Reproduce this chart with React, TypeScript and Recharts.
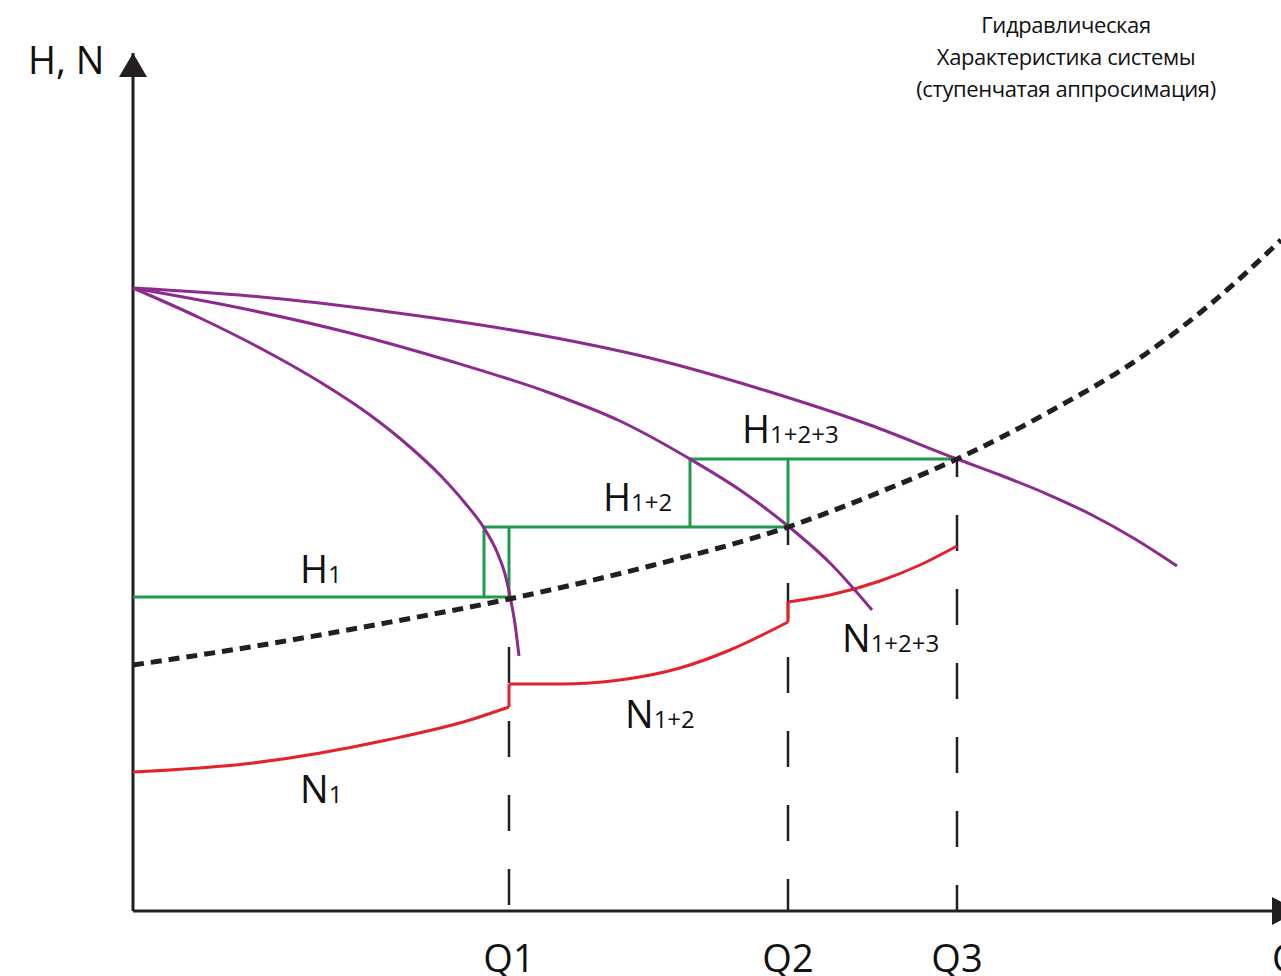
import React from "react";
import { ComposedChart, Line, XAxis, YAxis, ReferenceDot, ReferenceLine } from "recharts";

// schematic units: Q along the axis, H / N upward (no scale printed on the original)
type Pt = { x: number; y: number | null };

const FONT = "'Open Sans', 'Noto Sans', sans-serif";
const INK = "#231f20";
const PURPLE = "#8c2a8e";
const GREEN = "#1f9a4d";
const RED = "#e3222b";

const Q1 = 376;
const Q2 = 655;
const Q3 = 824;
const qTicks = [Q1, Q2, Q3];
const qNames = ["Q1", "Q2", "Q3"];

// pump curves: one, two and three pumps in parallel
const pump1: Pt[] = [
  { x: 0, y: 623 }, { x: 67, y: 593 }, { x: 127, y: 563 }, { x: 187, y: 529 },
  { x: 237, y: 496 }, { x: 277, y: 464 }, { x: 307, y: 436 }, { x: 332, y: 408 },
  { x: 351, y: 383 }, { x: 364, y: 359 }, { x: 372, y: 337 }, { x: 377, y: 315 },
  { x: 382, y: 287 }, { x: 386, y: 255 },
];
const pump12: Pt[] = [
  { x: 0, y: 623 }, { x: 117, y: 601 }, { x: 217, y: 578 }, { x: 317, y: 550 },
  { x: 417, y: 518 }, { x: 487, y: 490 }, { x: 557, y: 452 }, { x: 607, y: 421 },
  { x: 655, y: 385 }, { x: 697, y: 348 }, { x: 739, y: 301 },
];
const pump123: Pt[] = [
  { x: 0, y: 623 }, { x: 117, y: 615 }, { x: 257, y: 599 }, { x: 407, y: 576 },
  { x: 517, y: 553 }, { x: 634, y: 520 }, { x: 737, y: 486 }, { x: 824, y: 452 },
  { x: 867, y: 436 }, { x: 914, y: 417 }, { x: 957, y: 397 }, { x: 1002, y: 372 },
  { x: 1044, y: 345 },
];

// system characteristic
const system: Pt[] = [
  { x: 0, y: 246 }, { x: 117, y: 264 }, { x: 247, y: 287 }, { x: 376, y: 312 },
  { x: 517, y: 345 }, { x: 655, y: 384 }, { x: 747, y: 419 }, { x: 824, y: 452 },
  { x: 914, y: 498 }, { x: 1014, y: 558 }, { x: 1080, y: 609 }, { x: 1148, y: 671 },
];

// step approximation (nulls break the path)
const steps: Pt[] = [
  { x: 0, y: 314 }, { x: 376, y: 314 }, { x: 376, y: null },
  { x: 351, y: 314 }, { x: 351, y: 384 }, { x: 655, y: 384 }, { x: 655, y: null },
  { x: 376, y: 314 }, { x: 376, y: 384 }, { x: 376, y: null },
  { x: 557, y: 384 }, { x: 557, y: 452 }, { x: 824, y: 452 }, { x: 824, y: null },
  { x: 655, y: 384 }, { x: 655, y: 452 },
];

// power curves
const power1: Pt[] = [
  { x: 0, y: 139 }, { x: 120, y: 148 }, { x: 254, y: 171 }, { x: 337, y: 191 }, { x: 376, y: 204 },
];
const power12: Pt[] = [
  { x: 376, y: 227 }, { x: 427, y: 227 }, { x: 487, y: 231 }, { x: 547, y: 243 },
  { x: 597, y: 261 }, { x: 655, y: 289 },
];
const power123: Pt[] = [
  { x: 655, y: 309 }, { x: 697, y: 316 }, { x: 747, y: 330 }, { x: 787, y: 346 }, { x: 824, y: 365 },
];
const powerJumps: Pt[] = [
  { x: 376, y: 204 }, { x: 376, y: 227 }, { x: 376, y: null },
  { x: 655, y: 289 }, { x: 655, y: 309 },
];

const q1Drop: Pt[] = [{ x: Q1, y: 264 }, { x: Q1, y: 0 }];
const q2Drop: Pt[] = [{ x: Q2, y: 384 }, { x: Q2, y: 0 }];
const q3Drop: Pt[] = [{ x: Q3, y: 452 }, { x: Q3, y: 0 }];

const curveLabels = [
  { x: 167, y: 328, main: "H", sub: "1" },
  { x: 470, y: 400, main: "H", sub: "1+2" },
  { x: 609, y: 468, main: "H", sub: "1+2+3" },
  { x: 167, y: 108, main: "N", sub: "1" },
  { x: 492, y: 183, main: "N", sub: "1+2" },
  { x: 709, y: 259, main: "N", sub: "1+2+3" },
];

const titleLines = ["Гидравлическая", "Характеристика системы", "(ступенчатая аппросимация)"];

const QTick = (props: any) => {
  const i = qTicks.indexOf(props.payload.value);
  return (
    <text x={props.x} y={props.y} textAnchor="middle" fontFamily={FONT} fontSize={38} fill="#111">
      {qNames[i]}
    </text>
  );
};

const line = (data: Pt[], stroke: string, width: number, type: any, dash?: string, offset?: number) => (
  <Line
    data={data}
    dataKey="y"
    type={type}
    stroke={stroke}
    strokeWidth={width}
    strokeDasharray={dash}
    strokeDashoffset={offset}
    dot={false}
    activeDot={false}
    connectNulls={false}
    isAnimationActive={false}
  />
);

export default function App() {
  return (
    <div style={{ position: "absolute", left: 0, top: 0, background: "#fff" }}>
      <ComposedChart width={1281} height={976} margin={{ top: 53, right: 0, bottom: 0, left: 133 }}>
        <XAxis
          type="number"
          dataKey="x"
          domain={[0, 1148]}
          ticks={qTicks}
          tick={<QTick />}
          tickLine={false}
          tickSize={0}
          tickMargin={61}
          height={65}
          axisLine={{ stroke: INK, strokeWidth: 3 }}
        />
        <YAxis type="number" dataKey="y" domain={[0, 858]} hide />
        <ReferenceLine x={0} stroke={INK} strokeWidth={3} />

        {line(q1Drop, INK, 2.5, "linear", "36 38", 0)}
        {line(q2Drop, INK, 2.5, "linear", "36 38", 18)}
        {line(q3Drop, INK, 2.5, "linear", "36 38", 18)}

        {line(steps, GREEN, 3, "linear")}
        {line(power1, RED, 3, "monotone")}
        {line(power12, RED, 3, "monotone")}
        {line(power123, RED, 3, "monotone")}
        {line(powerJumps, RED, 3, "linear")}

        {line(pump1, PURPLE, 3, "monotone")}
        {line(pump12, PURPLE, 3, "monotone")}
        {line(pump123, PURPLE, 3, "monotone")}
        {line(system, INK, 5, "monotone", "11 7")}

        {/* axis arrows */}
        <ReferenceDot
          x={0}
          y={858}
          ifOverflow="visible"
          shape={(p: any) => (
            <polygon points={`${p.cx},${p.cy} ${p.cx - 14},${p.cy + 24} ${p.cx + 14},${p.cy + 24}`} fill={INK} />
          )}
        />
        <ReferenceDot
          x={1139}
          y={0}
          ifOverflow="visible"
          shape={(p: any) => (
            <polygon points={`${p.cx},${p.cy - 14} ${p.cx + 26},${p.cy} ${p.cx},${p.cy + 14}`} fill={INK} />
          )}
        />

        {curveLabels.map((l) => (
          <ReferenceDot
            key={l.main + l.sub}
            x={l.x}
            y={l.y}
            ifOverflow="visible"
            shape={(p: any) => (
              <text x={p.cx} y={p.cy} fontFamily={FONT} fill="#111">
                <tspan fontSize={38}>{l.main}</tspan>
                <tspan fontSize={24}>{l.sub}</tspan>
              </text>
            )}
          />
        ))}

        <ReferenceDot
          x={-105}
          y={837}
          ifOverflow="visible"
          shape={(p: any) => (
            <text x={p.cx} y={p.cy} fontFamily={FONT} fontSize={38} fill="#111">H, N</text>
          )}
        />
        <ReferenceDot
          x={1139}
          y={-61}
          ifOverflow="visible"
          shape={(p: any) => (
            <text x={p.cx} y={p.cy} fontFamily={FONT} fontSize={38} fill="#111">Q</text>
          )}
        />
        <ReferenceDot
          x={933}
          y={878}
          ifOverflow="visible"
          shape={(p: any) => (
            <text x={p.cx} y={p.cy} textAnchor="middle" fontFamily={FONT} fontSize={22} letterSpacing={-0.4} fill="#111">
              {titleLines.map((t, i) => (
                <tspan key={t} x={p.cx} dy={i === 0 ? 0 : 32}>{t}</tspan>
              ))}
            </text>
          )}
        />
      </ComposedChart>
    </div>
  );
}
